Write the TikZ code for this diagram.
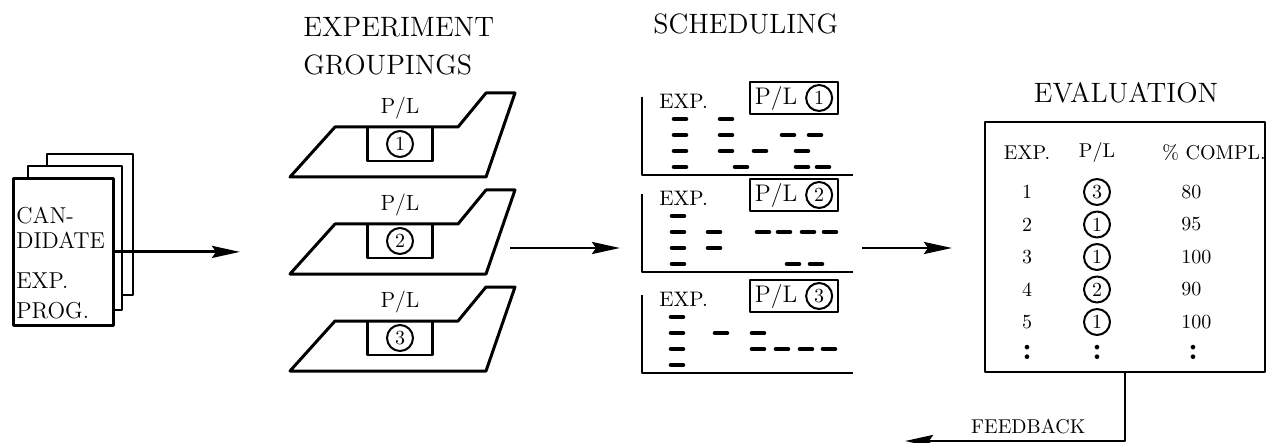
\documentclass[tikz,border=0pt]{standalone}
\usetikzlibrary{arrows.meta,positioning}
\newcommand{\circnum}[1]{\tikz[baseline=(cn.base)]\node[draw,circle,line width=1pt,minimum size=13pt,inner sep=0pt,font=\fontsize{10}{10}\selectfont] (cn) {#1};}

\begin{document}
\begin{tikzpicture}[x=0.5pt, y=-0.5pt, >={Stealth[length=14pt,width=6pt,inset=2pt]}, line width=1.4pt, line join=round,
	pagebox/.style={draw, fill=white},
	headtxt/.style={inner sep=0pt, font=\fontsize{14}{19}\selectfont},
	lbl/.style={inner sep=0pt, font=\fontsize{10}{12}\selectfont},
	plbox/.style={draw, minimum width=32.5pt, minimum height=17pt, inner sep=0pt},
	cnum/.style={draw, circle, line width=1pt, minimum size=13pt, inner sep=0pt, font=\fontsize{10}{10}\selectfont},
	slot/.style={line width=2.3pt, line cap=round}]
	\useasboundingbox (0,0) rectangle (1268,443);

	% Candidate programs
	\draw[pagebox] (47,154) rectangle (133,295);
	\draw[pagebox] (28,166) rectangle (122,310);
	\node[pagebox, minimum width=50pt, minimum height=73.5pt, anchor=north west] (cand) at (12,177) {};
	\node[inner sep=0pt, align=left, anchor=north west, font=\fontsize{11.5}{12.5}\selectfont] (candtxt) at (15,206) {CAN-\\DIDATE\\[7.5pt]EXP.\\[2.5pt]PROG.};
	\coordinate (grpin) at (240,250);
	\draw[->] (cand.east) -- (cand.east -| grpin);

	% Experiment groupings
	\node[headtxt, align=left, anchor=west] (grptitle) at (302,46) {EXPERIMENT\\GROUPINGS};
	\foreach \y/\n in {127/1,224/2,321/3}{
		\draw[line width=1.5pt] (290,\y+50) -- (335,\y) -- (458,\y) -- (486,\y-34) -- (515,\y-34) -- (486,\y+50) -- cycle;
		\node[plbox] (grp\n) at (400,\y+17) {};
		\node[cnum] (grpn\n) at (grp\n) {\n};
		\node[lbl, font=\fontsize{11}{12}\selectfont, above=2.5pt of grp\n] (grpl\n) {P/L};
	}
	\coordinate (grpout) at (510,248);
	\coordinate (schin) at (620,248);
	\draw[->] (grpout) -- (schin);

	% Scheduling
	\node[headtxt, anchor=west] (schtitle) at (652,24) {SCHEDULING};
	\foreach \b/\n/\slots in {175/1/{672/1,718/1,672/2,718/2,780/2,807/2,672/3,718/3,752/3,794/3,672/4,733/4,794/4,815/4},
			272/2/{670/1,670/2,706/2,755/2,776/2,800/2,822/2,670/3,706/3,670/4,785/4,808/4},
			373/3/{669/1,669/2,713/2,750/2,669/3,750/3,774/3,798/3,821/3,669/4}}{
		\draw (642,\b-78) -- (642,\b) -- (853,\b);
		\node[draw, minimum width=44pt, minimum height=15pt, inner sep=1pt, font=\fontsize{12}{12}\selectfont] (pl\n) at (794,\b-77) {P/L \circnum{\n}};
		\node[lbl, font=\fontsize{10.5}{12}\selectfont, anchor=west] (exp\n) at (658,\b-74) {EXP.};
		\foreach \x/\r in \slots
			\draw[slot] (\x+2,\b-72+16*\r) -- (\x+14,\b-72+16*\r);
	}
	\coordinate (schout) at (862,248);
	\coordinate (evin) at (952,248);
	\draw[->] (schout) -- (evin);

	% Evaluation
	\node[headtxt] (evtitle) at (1126,93) {EVALUATION};
	\node[draw, minimum width=140pt, minimum height=125pt] (eval) at (1125,247) {};
	\node[lbl] (hexp) at (1027,153) {EXP.};
	\node[lbl] (hpl) at (1097,153) {P/L};
	\node[lbl] (hpc) at (1214,153) {\% COMPL.};
	\foreach \e/\p/\c [count=\i] in {1/3/80,2/1/95,3/1/100,4/2/90,5/1/100}{
		\node[lbl] (e\i) at (1027,159.5+32.5*\i) {\e};
		\node[cnum] (p\i) at (1097,159.5+32.5*\i) {\p};
		\node[lbl, anchor=west] (c\i) at (1180,159.5+32.5*\i) {\c};
	}
	\foreach \x in {1027,1097,1193}
		\node[inner sep=0pt, font=\fontsize{16}{16}\bfseries\selectfont] (dots\x) at (\x,352) {:};

	% Feedback
	\coordinate (fbend) at (905,441);
	\draw[->] (eval.south) |- node[lbl, pos=0.72, above=3pt] (fbtxt) {FEEDBACK} (fbend);
\end{tikzpicture}
\end{document}
